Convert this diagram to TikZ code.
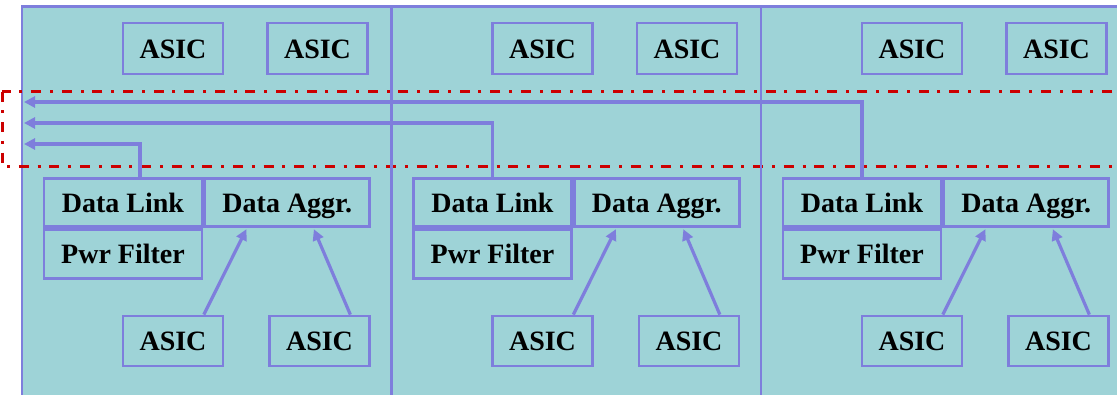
\documentclass[tikz,border=0pt]{standalone}
\usepackage{fontspec}
\setmainfont{Liberation Serif}
\usetikzlibrary{calc,arrows.meta}
\definecolor{boardteal}{RGB}{158,211,215}
\definecolor{linkblue}{RGB}{126,126,220}
\definecolor{busred}{RGB}{204,0,0}
\tikzset{
  chipbox/.style={rectangle,draw=linkblue,line width=2.8pt,inner sep=0pt,
    font=\bfseries\fontsize{28}{30}\selectfont,text height=20pt,text depth=1pt},
  asic/.style={chipbox,minimum width=100pt,minimum height=51pt},
  feed/.style={-{Triangle[length=11pt,width=11pt]},draw=linkblue,line width=3.2pt},
  bus/.style={draw=busred,line width=3pt,
    dash pattern=on 10pt off 8.8pt on 3pt off 8.8pt}
}
\begin{document}
\begin{tikzpicture}[x=1pt,y=-1pt]
      \useasboundingbox (0,0) rectangle (1117,394);
      \clip (0,0) rectangle (1117,394);
      \draw[fill=boardteal,draw=linkblue,line width=2.6pt] (22,6.5) rectangle (1140,410);
      \draw[bus] (2,91.5) rectangle (1140,166.5);
      \draw[linkblue,line width=2.6pt] (391.5,6.5) -- (391.5,410);
      \draw[linkblue,line width=2.6pt] (761,6.5) -- (761,410);

      \coordinate (port1) at (24,102);
      \coordinate (port2) at (24,123);
      \coordinate (port3) at (24,144);

      % first board
      \node[asic] (asicA1) at (173,48.5) {ASIC};
      \node[asic] (asicB1) at (317.5,48.5) {ASIC};
      \node[chipbox,minimum width=158pt,minimum height=48pt] (link1) at (123,202.5)
           {Data Link};
      \node[chipbox,minimum width=165pt,minimum height=48pt,anchor=west] (aggr1) at (link1.east)
           {Data Aggr.};
      \node[chipbox,minimum width=158pt,minimum height=49pt,anchor=north] (pwr1) at (link1.south)
           {Pwr Filter};
      \node[asic,minimum height=50pt] (asicC1) at (173,341) {ASIC};
      \node[asic,minimum height=50pt] (asicD1) at (319.5,341) {ASIC};
      \draw[feed,shorten >=1.5pt] ($(asicC1.north)!0.6!(asicC1.north east)$) to
      ($(aggr1.south)!0.48!(aggr1.south west)$);
      \draw[feed,shorten >=1.5pt] ($(asicD1.north)!0.6!(asicD1.north east)$) to
      ($(aggr1.south)!0.31!(aggr1.south east)$);
      \draw[feed] ([xshift=17pt]link1.north) |- (port3);

      % second board
      \node[asic] (asicA2) at (542.5,48.5) {ASIC};
      \node[asic] (asicB2) at (687,48.5) {ASIC};
      \node[chipbox,minimum width=158pt,minimum height=48pt] (link2) at (492.5,202.5)
           {Data Link};
      \node[chipbox,minimum width=165pt,minimum height=48pt,anchor=west] (aggr2) at (link2.east)
           {Data Aggr.};
      \node[chipbox,minimum width=158pt,minimum height=49pt,anchor=north] (pwr2) at (link2.south)
           {Pwr Filter};
      \node[asic,minimum height=50pt] (asicC2) at (542.5,341) {ASIC};
      \node[asic,minimum height=50pt] (asicD2) at (689,341) {ASIC};
      \draw[feed,shorten >=1.5pt] ($(asicC2.north)!0.6!(asicC2.north east)$) to
      ($(aggr2.south)!0.48!(aggr2.south west)$);
      \draw[feed,shorten >=1.5pt] ($(asicD2.north)!0.6!(asicD2.north east)$) to
      ($(aggr2.south)!0.31!(aggr2.south east)$);
      \draw[feed] (link2.north) |- (port2);

      % third board
      \node[asic] (asicA3) at (912,48.5) {ASIC};
      \node[asic] (asicB3) at (1056.5,48.5) {ASIC};
      \node[chipbox,minimum width=158pt,minimum height=48pt] (link3) at (862,202.5)
           {Data Link};
      \node[chipbox,minimum width=165pt,minimum height=48pt,anchor=west] (aggr3) at (link3.east)
           {Data Aggr.};
      \node[chipbox,minimum width=158pt,minimum height=49pt,anchor=north] (pwr3) at (link3.south)
           {Pwr Filter};
      \node[asic,minimum height=50pt] (asicC3) at (912,341) {ASIC};
      \node[asic,minimum height=50pt] (asicD3) at (1058.5,341) {ASIC};
      \draw[feed,shorten >=1.5pt] ($(asicC3.north)!0.6!(asicC3.north east)$) to
      ($(aggr3.south)!0.48!(aggr3.south west)$);
      \draw[feed,shorten >=1.5pt] ($(asicD3.north)!0.6!(asicD3.north east)$) to
      ($(aggr3.south)!0.31!(aggr3.south east)$);
      \draw[feed] (link3.north) |- (port1);
    \end{tikzpicture}
\end{document}
